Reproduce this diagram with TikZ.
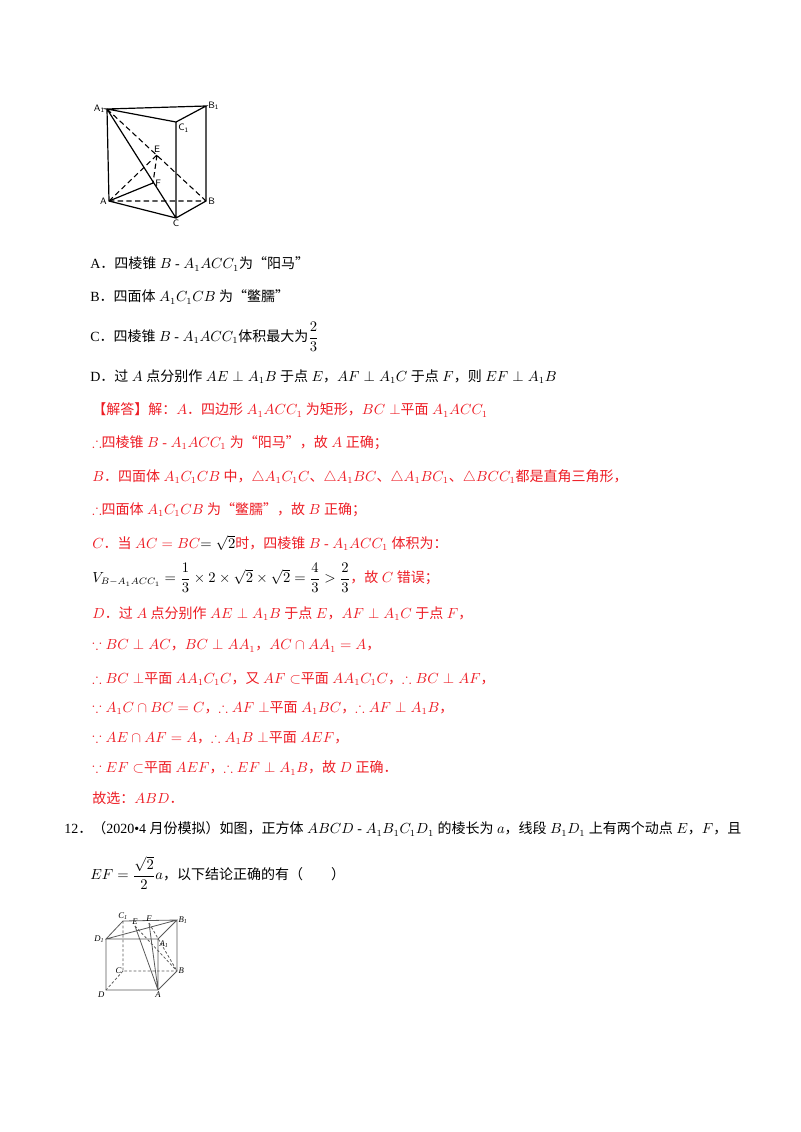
\documentclass[tikz,border=0pt]{standalone}
\usepackage{amsmath,amssymb}
\usepackage{fontspec}
\setmainfont{Liberation Serif}
\newfontfamily\cjk{Noto Sans CJK SC}
\newcommand\zh[1]{{\cjk #1}}
\newcommand\pd{\zh{．}}
\definecolor{ans}{RGB}{237,28,36}
\begin{document}
\begin{tikzpicture}[x=0.75pt,y=-0.75pt,
  t/.style={anchor=west,inner sep=0pt,font=\fontsize{10.5}{12}\selectfont},
  r/.style={t,text=ans},
  e/.style={line width=0.9pt},
  h/.style={line width=0.8pt,dash pattern=on 4pt off 2.5pt},
  lb/.style={inner sep=1.5pt,font=\sffamily\fontsize{7}{8}\selectfont},
  lc/.style={inner sep=1pt,font=\itshape\fontsize{6.5}{7}\selectfont}]
\useasboundingbox (0,0) rectangle (800,1132);
% figure 1
\coordinate (A1) at (107,109); \coordinate (B1) at (206,106); \coordinate (C1) at (176,122);
\coordinate (A) at (109,201); \coordinate (B) at (206,201); \coordinate (C) at (176,218);
\coordinate (E) at (157,155); \coordinate (F) at (153,183);
\draw[e] (A1)--(B1)--(C1)--cycle (A1)--(A)--(C)--(B)--(B1) (C1)--(C) (A1)--(C) (A)--(F);
\draw[h] (A1)--(B) (A)--(B) (A)--(E) (E)--(F);
\node[lb,left] at (A1) {A\textsubscript{1}};
\node[lb,right] at (B1) {B\textsubscript{1}};
\node[lb,below right] at (C1) {C\textsubscript{1}};
\node[lb,left] at (A) {A};
\node[lb,right] at (B) {B};
\node[lb,below] at (C) {C};
\node[lb,above] at (E) {E};
\node[lb,right] at (F) {F};
% text
\node[t] at (90,264) {A\pd\zh{四棱锥} $B$ - $A_1ACC_1$\zh{为“阳马”}};
\node[t] at (90,297) {B\pd\zh{四面体} $A_1C_1CB$ \zh{为“鳖臑”}};
\node[t] at (90,337) {C\pd\zh{四棱锥} $B$ - $A_1ACC_1$\zh{体积最大为}$\dfrac{2}{3}$};
\node[t] at (90,377) {D\pd\zh{过} $A$ \zh{点分别作} $AE\perp A_1B$ \zh{于点} $E$\zh{，}$AF\perp A_1C$ \zh{于点} $F$\zh{，则} $EF\perp A_1B$};
\node[r] at (92,410) {\zh{【解答】解：}$A$\pd\zh{四边形} $A_1ACC_1$ \zh{为矩形，}$BC\perp$\zh{平面} $A_1ACC_1$};
\node[r] at (92,443) {$\therefore$\zh{四棱锥} $B$ - $A_1ACC_1$ \zh{为“阳马”，故} $A$ \zh{正确；}};
\node[r] at (92,477) {$B$\pd\zh{四面体} $A_1C_1CB$ \zh{中，}$\triangle A_1C_1C$\zh{、}$\triangle A_1BC$\zh{、}$\triangle A_1BC_1$\zh{、}$\triangle BCC_1$\zh{都是直角三角形，}};
\node[r] at (92,510) {$\therefore$\zh{四面体} $A_1C_1CB$ \zh{为“鳖臑”，故} $B$ \zh{正确；}};
\node[r] at (92,543) {$C$\pd\zh{当} $AC=BC$\textcolor{black}{$=\sqrt{2}$}\zh{时，四棱锥} $B$ - $A_1ACC_1$ \zh{体积为：}};
\node[r] at (92,578) {\textcolor{black}{$V_{B-A_1ACC_1}=\dfrac13\times2\times\sqrt2\times\sqrt2=\dfrac43>\dfrac23$}\zh{，故} $C$ \zh{错误；}};
\node[r] at (92,614) {$D$\pd\zh{过} $A$ \zh{点分别作} $AE\perp A_1B$ \zh{于点} $E$\zh{，}$AF\perp A_1C$ \zh{于点} $F$\zh{，}};
\node[r] at (92,646) {$\because BC\perp AC$\zh{，}$BC\perp AA_1$\zh{，}$AC\cap AA_1=A$\zh{，}};
\node[r] at (92,679) {$\therefore BC\perp$\zh{平面} $AA_1C_1C$\zh{，又} $AF\subset$\zh{平面} $AA_1C_1C$\zh{，}$\therefore BC\perp AF$\zh{，}};
\node[r] at (92,708) {$\because A_1C\cap BC=C$\zh{，}$\therefore AF\perp$\zh{平面} $A_1BC$\zh{，}$\therefore AF\perp A_1B$\zh{，}};
\node[r] at (92,738) {$\because AE\cap AF=A$\zh{，}$\therefore A_1B\perp$\zh{平面} $AEF$\zh{，}};
\node[r] at (92,768) {$\because EF\subset$\zh{平面} $AEF$\zh{，}$\therefore EF\perp A_1B$\zh{，故} $D$ \zh{正确．}};
\node[r] at (92,798) {\zh{故选：}$ABD$\pd};
\node[t] at (64,829) {12\pd\zh{（}2020\textbullet4 \zh{月份模拟）如图，正方体} $ABCD$ - $A_1B_1C_1D_1$ \zh{的棱长为} $a$\zh{，线段} $B_1D_1$ \zh{上有两个动点} $E$\zh{，}$F$\zh{，且}};
\node[t] at (90,873) {$EF=\dfrac{\sqrt2}{2}a$\zh{，以下结论正确的有（\qquad ）}};
% figure 2
\coordinate (c1) at (123,921); \coordinate (b1) at (177,920); \coordinate (d1) at (106,939); \coordinate (a1) at (158,939);
\coordinate (c) at (123,971); \coordinate (b) at (177,971); \coordinate (d) at (106,990); \coordinate (a) at (158,990);
\coordinate (ee) at (135,926); \coordinate (ff) at (149,923);
\draw[line width=0.6pt,gray!70!black] (c1)--(b1)--(a1)--(d1)--cycle (d1)--(d)--(a)--(b)--(b1) (a1)--(a) (d1)--(b1) (ee)--(a) (ff)--(a);
\draw[line width=0.6pt,gray!70!black,dash pattern=on 2pt off 1.5pt] (c1)--(c)--(b) (c)--(d) (ee)--(b) (ff)--(b);
\node[lc,above] at (c1) {C\textsubscript{1}};
\node[lc,right] at (b1) {B\textsubscript{1}};
\node[lc,left] at (d1) {D\textsubscript{1}};
\node[lc,below right] at (a1) {A\textsubscript{1}};
\node[lc,left] at (c) {C};
\node[lc,right] at (b) {B};
\node[lc,below left] at (d) {D};
\node[lc,below] at (a) {A};
\node[lc,above] at (ee) {E};
\node[lc,above] at (ff) {F};
\end{tikzpicture}
\end{document}
